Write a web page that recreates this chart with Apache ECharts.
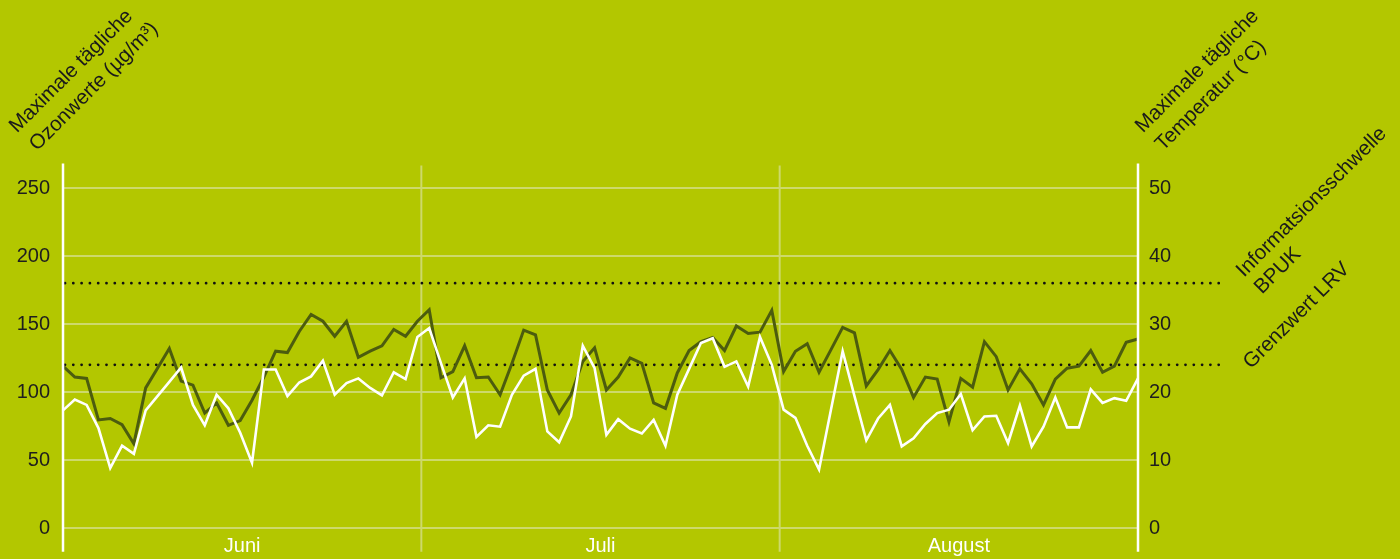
<!DOCTYPE html>
<html>
<head>
<meta charset="utf-8">
<script src="https://cdn.jsdelivr.net/npm/echarts@6/dist/echarts.min.js"></script>
<style>
html,body{margin:0;padding:0;background:#b3c700;}
#chart{width:1400px;height:559px;}
</style>
</head>
<body>
<div id="chart"></div>
<script>
// Months (x-axis labels)
const months = ['Juni', 'Juli', 'August'];
// Left axis ticks (ozone, µg/m³) and right axis ticks (temperature, °C)
const ozoneTicks = [0, 50, 100, 150, 200, 250];
const tempTicks = [0, 10, 20, 30, 40, 50];
// Threshold lines (ozone)
const thresholdValues = [180, 120];
const thresholdLabels = [['Informatsionsschwelle', 'BPUK'], ['Grenzwert LRV']];
// Daily maximum ozone, 1 June – 31 August (µg/m³)
const ozone = [
  119, 111, 110, 79.5, 80.5, 76, 62, 103, 117.5, 132,
  108, 105, 84.5, 92, 75.5, 79, 94, 111, 130, 129,
  144.5, 157, 152, 141, 152, 125.5, 130, 134, 146, 141,
  152, 160.5, 110.5, 115, 134, 110.5, 111, 98, 121, 145.5,
  142, 101.5, 84.5, 98, 122.5, 132.5, 101.5, 111, 125, 121,
  92, 88, 114, 130.5, 137, 140, 130.5, 148.5, 143, 144,
  160, 115, 130, 135.5, 114.5, 131, 147.5, 143.5, 104.5, 116.5,
  130.5, 116.5, 96, 111, 109.5, 78, 110, 103.5, 137, 126,
  101.5, 117, 106, 90.5, 109.5, 117.5, 119, 130.5, 114.5, 119,
  136.5, 139
];
// Daily maximum temperature (°C)
const temperature = [
  17.3, 18.9, 18.1, 14.7, 8.8, 12.1, 10.9, 17.3, 19.4, 21.5,
  23.6, 18.1, 15.1, 19.6, 17.6, 14, 9.6, 23.3, 23.3, 19.4,
  21.4, 22.3, 24.6, 19.6, 21.3, 22, 20.6, 19.5, 22.9, 21.9,
  28.1, 29.4, 24.2, 19.2, 22, 13.4, 15.1, 14.9, 19.6, 22.4,
  23.4, 14.2, 12.6, 16.4, 26.8, 23.5, 13.7, 16, 14.6, 13.9,
  15.9, 12.1, 19.6, 23.4, 27.2, 27.9, 23.7, 24.5, 20.8, 28.1,
  24, 17.4, 16.2, 12.1, 8.6, 17.3, 26, 19.4, 12.9, 16.1,
  18.1, 12, 13.2, 15.3, 16.9, 17.4, 19.7, 14.4, 16.4, 16.5,
  12.5, 18, 12, 14.9, 19.2, 14.8, 14.8, 20.4, 18.4, 19.1,
  18.7, 22
];

const FONT = '"Liberation Sans", Arial, Helvetica, sans-serif';
const BG = '#b3c700';
const GRID = '#cdd96b';
const OZ = '#4c5c0e';

const chart = echarts.init(document.getElementById('chart'), null, {renderer: 'canvas'});

const ozData = ozone.map((v, i) => [i, v]);
const tData = temperature.map((v, i) => [i, v]);

chart.setOption({
  backgroundColor: BG,
  animation: false,
  grid: {left: 63, right: 262, top: 188, bottom: 31, containLabel: false},
  xAxis: [
    {type: 'value', min: 0, max: ozone.length - 1, show: false},
    {type: 'category', data: months, boundaryGap: true, position: 'bottom',
     axisLine: {show: false}, axisTick: {show: false}, splitLine: {show: false},
     axisLabel: {color: '#ffffff', fontSize: 20, fontFamily: FONT, margin: 8}}
  ],
  yAxis: [
    {type: 'value', min: ozoneTicks[0], max: ozoneTicks[ozoneTicks.length - 1], interval: 50,
     position: 'left',
     axisLine: {show: false}, axisTick: {show: false},
     axisLabel: {color: '#1e1e1e', fontSize: 20, fontFamily: FONT, margin: 13},
     splitLine: {show: true, lineStyle: {color: GRID, width: 2}}},
    {type: 'value', min: tempTicks[0], max: tempTicks[tempTicks.length - 1], interval: 10,
     position: 'right',
     axisLine: {show: false}, axisTick: {show: false},
     axisLabel: {color: '#1e1e1e', fontSize: 20, fontFamily: FONT, margin: 11},
     splitLine: {show: false}}
  ],
  series: [
    {type: 'line', name: 'Ozon', data: ozData, xAxisIndex: 0, yAxisIndex: 0,
     showSymbol: false, symbol: 'none', z: 3,
     lineStyle: {color: OZ, width: 3, join: 'miter'}},
    {type: 'line', name: 'Temperatur', data: tData, xAxisIndex: 0, yAxisIndex: 1,
     showSymbol: false, symbol: 'none', z: 4,
     lineStyle: {color: '#ffffff', width: 2.6, join: 'miter'}}
  ]
});

// Decorations positioned through the chart's own scales
const px = v => chart.convertToPixel({xAxisIndex: 0}, v);
const py = v => chart.convertToPixel({yAxisIndex: 0}, v);
const xL = px(0), xR = px(ozone.length - 1);
const yTop = py(268), yBot = py(-17.5);
const els = [];
// month dividers
[1, 2].forEach(k => {
  const x = xL + (xR - xL) * k / months.length;
  els.push({type: 'line', z: 1, shape: {x1: x, y1: yTop + 2, x2: x, y2: yBot},
    style: {stroke: GRID, lineWidth: 2}});
});
// axis lines
[xL, xR].forEach(x => {
  els.push({type: 'line', z: 10, shape: {x1: x, y1: yTop, x2: x, y2: yBot},
    style: {stroke: '#ffffff', lineWidth: 2.5}});
});
// threshold dotted lines
const xDotEnd = xR + 87;
thresholdValues.forEach(v => {
  const y = py(v);
  els.push({type: 'line', z: 2, shape: {x1: xL + 2, y1: y, x2: xDotEnd, y2: y},
    style: {stroke: '#111111', lineWidth: 2.8, lineDash: [0, 8.3], lineCap: 'round'}});
});
// rotated text helper
const DX = 11.5, DY = 3;
function rotText(str, x, y, size) {
  els.push({type: 'text', z: 20, x: x + DX, y: y + DY, rotation: Math.PI / 4,
    style: {text: str, fill: '#1a1a1a', font: size + 'px ' + FONT,
      textAlign: 'left', textVerticalAlign: 'bottom'}});
}
const TS = 20.6;
// axis titles
rotText('Maximale tägliche', 9, 134, TS);
rotText('Ozonwerte (µg/m³)', 29, 152, TS);
rotText('Maximale tägliche', 1135, 134, TS);
rotText('Temperatur (°C)', 1155, 152, TS);
// threshold labels
const y180 = py(thresholdValues[0]);
const y120 = py(thresholdValues[1]);
rotText(thresholdLabels[0][0], 1236, y180 - 5, TS);
rotText(thresholdLabels[0][1], 1254, y180 + 12, TS);
rotText(thresholdLabels[1][0], 1243, y120 + 5, TS);

chart.setOption({graphic: {elements: els}});
</script>
</body>
</html>
